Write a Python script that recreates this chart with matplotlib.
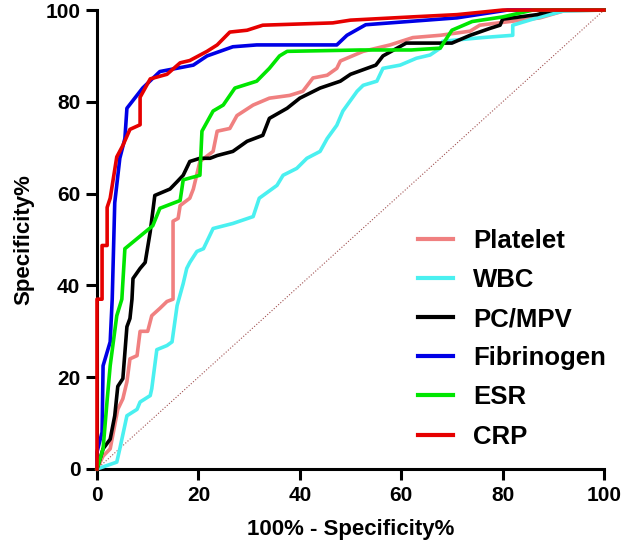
import matplotlib
matplotlib.use("Agg")
import matplotlib.pyplot as plt

plt.rcParams['font.family'] = ['Liberation Sans', 'DejaVu Sans']
plt.rcParams['font.weight'] = 'bold'

# ROC curves: x = 100% - specificity, y = sensitivity
platelet_x = [0, 1.2, 2.6, 4.1, 5.1, 5.9, 6.5, 7.9, 8.5, 10, 10.8, 12.4, 13.8, 15, 15, 16, 16.4, 18.3, 19, 20.3,
              22.9, 23.7, 26.2, 27.6, 30.8, 34, 38, 40.6, 42.6, 45.4, 47.3, 48, 52.5, 57.8, 62.3, 67.7, 73.6, 75.5,
              87.4, 92, 100]
platelet_y = [0, 2.8, 4.4, 13, 15.3, 19, 24, 24.7, 30, 30, 33.4, 35, 36.5, 37, 54, 54.6, 57.4, 59, 61, 67,
              69.2, 73.6, 74.2, 77, 79.3, 80.8, 81.4, 82.3, 85.2, 85.8, 87.3, 88.9, 91, 92.4, 94, 94.5, 95.4, 96.7,
              98.3, 99.8, 100]

wbc_x = [0, 3.9, 4.5, 5.9, 7.9, 8.5, 10.5, 10.8, 11.8, 13.8, 14.8, 15.8, 17, 17.7, 18.3, 19.7, 21, 22.9, 26.8,
         30.8, 32, 35.5, 36.7, 39.4, 41.4, 44, 45.4, 47.3, 48.5, 51.3, 52.5, 55.2, 56.4, 59.8, 63, 65.7, 67.7, 68.2,
         76, 82, 82, 86.8, 92, 100]
wbc_y = [0, 1.5, 4.4, 11.6, 13, 14.6, 16, 17.5, 26, 26.9, 27.7, 35.6, 40.4, 43.7, 45, 47.4, 48, 52.4, 53.5,
         55, 59, 61.8, 64, 65.5, 67.7, 69.2, 72, 74.9, 78, 82.3, 83.6, 84.5, 87.3, 88, 89.5, 90.2, 91.7, 93.2,
         94, 94.5, 96.7, 98.3, 99.8, 100]

pcmpv_x = [0, 1.2, 2.6, 3.5, 4.1, 5.1, 5.9, 6.5, 6.9, 7.1, 8.5, 9.5, 10.5, 11.4, 14.4, 15.8, 17, 18.3, 20.3, 22.3,
           23.7, 26.8, 29.6, 32.7, 34, 37.5, 40, 44, 48, 50, 55, 56.4, 61, 70, 73.6, 77.5, 79.5, 80, 86.8, 90, 100]
pcmpv_y = [0, 4.4, 6.5, 11.6, 18, 19.7, 31, 32.8, 37, 41.5, 43.7, 45, 51.7, 59.6, 61, 62.6, 64, 67, 67.7, 67.7,
           68.3, 69.2, 71.4, 72.7, 76.4, 78.6, 80.8, 83, 84.5, 86, 88, 90, 92.8, 92.8, 94.5, 96, 96.7, 98, 99, 100, 100]

fib_x = [0, 0, 1, 1.2, 2.6, 3, 3.5, 4.5, 5.5, 5.9, 9, 12.4, 19, 21.7, 26.8, 31.5, 47.3, 49.3, 53, 71, 81, 100]
fib_y = [0, 3.7, 8, 22.5, 27.7, 37, 58, 67.7, 72, 78.6, 83, 86.6, 88, 90, 92, 92.4, 92.4, 94.5, 96.8, 98.3, 100, 100]

esr_x = [0, 1.2, 2, 2.6, 3.9, 4.9, 5.5, 11, 12.4, 16.4, 17, 20.3, 20.7, 22.9, 24.9, 27.2, 31.5, 34, 36, 37.5,
         52, 62, 67.7, 70, 74, 80, 86, 100]
esr_y = [0, 4.4, 15, 22.5, 33.4, 37, 48, 53, 56.8, 58.5, 63, 64, 73.6, 78, 79.3, 83, 84.5, 87.3, 90, 91,
         91.3, 91.3, 91.7, 95.6, 97.5, 98.5, 100, 100]

crp_x = [0, 0, 1, 1, 2, 2, 2.6, 3.9, 5.1, 6.5, 8.5, 8.5, 10.5, 13.8, 16.4, 18.3, 21.7, 23.7, 26.2, 29.6, 32.7,
         46.5, 50, 62, 71, 80, 100]
crp_y = [0, 37, 37, 48.7, 48.7, 57, 59, 68, 70.5, 74, 75, 81, 85, 86, 88.5, 89, 91, 92.4, 95.2, 95.6, 96.7,
         97.2, 97.8, 98.5, 99, 100, 100]

curves = [
    ('Platelet', platelet_x, platelet_y, '#f08080'),
    ('WBC', wbc_x, wbc_y, '#4af0f0'),
    ('PC/MPV', pcmpv_x, pcmpv_y, '#000000'),
    ('Fibrinogen', fib_x, fib_y, '#0000e6'),
    ('ESR', esr_x, esr_y, '#00e600'),
    ('CRP', crp_x, crp_y, '#e60000'),
]

fig = plt.figure(figsize=(6.25, 5.58), dpi=100)
ax = fig.add_axes([0.1552, 0.1595, 0.8112, 0.8225])

# reference diagonal
ax.plot([0, 100], [0, 100], color='#a05050', lw=0.8, ls=':', zorder=1)

for name, xs, ys, col in curves:
    ax.plot(xs, ys, color=col, lw=2.6, label=name, clip_on=False, zorder=3)

ax.set_xlim(0, 100)
ax.set_ylim(0, 100)
ax.set_xticks([0, 20, 40, 60, 80, 100])
ax.set_yticks([0, 20, 40, 60, 80, 100])

for s in ['top', 'right']:
    ax.spines[s].set_visible(False)
for s in ['left', 'bottom']:
    ax.spines[s].set_linewidth(2.2)

ax.tick_params(direction='out', length=8, width=2.2, labelsize=15, pad=4)
for lab in ax.get_xticklabels() + ax.get_yticklabels():
    lab.set_fontweight('bold')

ax.set_xlabel('100% - Specificity%', fontsize=16, fontweight='bold', labelpad=10)
ax.set_ylabel('Specificity%', fontsize=16, fontweight='bold', labelpad=8)

leg = ax.legend(loc='center left', bbox_to_anchor=(0.633, 0.284), frameon=False,
                prop={'size': 18.5, 'weight': 'bold'}, handlelength=1.36, handletextpad=0.78,
                labelspacing=0.59, borderpad=0, borderaxespad=0)
for line in leg.get_lines():
    line.set_linewidth(3)

fig.savefig('out.png', dpi=100)
